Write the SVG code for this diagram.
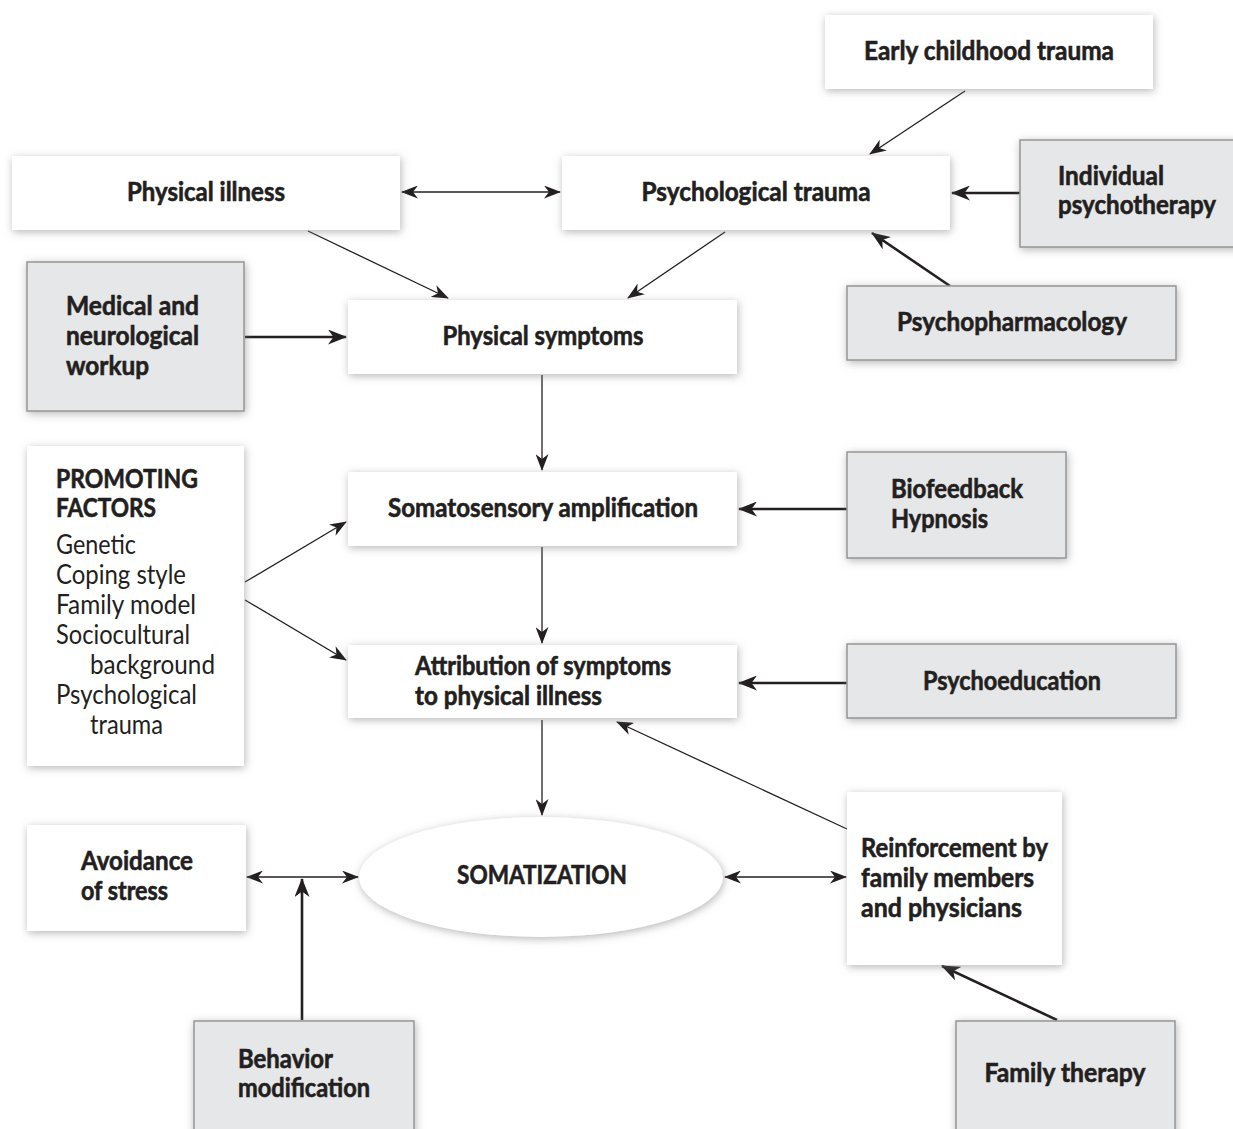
<svg xmlns="http://www.w3.org/2000/svg" width="1233" height="1129" viewBox="0 0 1233 1129">
  <defs>
    <filter id="glow" x="-20%" y="-30%" width="140%" height="160%">
      <feDropShadow dx="1" dy="2" stdDeviation="4" flood-color="#7a7a7a" flood-opacity="0.55"/>
    </filter>
    <marker id="head" viewBox="0 0 17 13" markerWidth="17" markerHeight="13" refX="16" refY="6.5" orient="auto-start-reverse" markerUnits="userSpaceOnUse">
      <path d="M0,0 L17,6.5 L0,13 L5,6.5 z" fill="#231f20"/>
    </marker>
    <marker id="headBig" viewBox="0 0 19 15" markerWidth="19" markerHeight="15" refX="18" refY="7.5" orient="auto-start-reverse" markerUnits="userSpaceOnUse">
      <path d="M0,0 L19,7.5 L0,15 L5.5,7.5 z" fill="#231f20"/>
    </marker>
  </defs>
  <style>
    .white { fill: #ffffff; filter: url(#glow); }
    .gray { fill: #e6e7e8; stroke: #969696; stroke-width: 1.5; filter: url(#glow); }
    .t { font-family: Lato, "Liberation Sans", sans-serif; font-weight: 700; font-size: 26px; fill: #231f20; stroke: #231f20; stroke-width: 0.6; }
    .r { font-family: Lato, "Liberation Sans", sans-serif; font-weight: 400; font-size: 26px; fill: #231f20; }
    .thin { stroke: #231f20; stroke-width: 1.3; fill: none; marker-end: url(#head); }
    .thick { stroke: #231f20; stroke-width: 2.6; fill: none; marker-end: url(#headBig); }
    .both { marker-start: url(#head); }
  </style>
  <rect width="1233" height="1129" fill="#ffffff"/>

  <!-- connectors -->
  <g id="connectors">
    <line class="thin" x1="965" y1="91" x2="870" y2="154"/>
    <line class="thin both" x1="402" y1="192" x2="560" y2="192"/>
    <line class="thick" x1="1020" y1="193" x2="952" y2="193"/>
    <line class="thick" x1="950" y1="286" x2="872" y2="233"/>
    <line class="thin" x1="308" y1="231" x2="448" y2="298"/>
    <line class="thin" x1="725" y1="232" x2="628" y2="298"/>
    <line class="thick" x1="245" y1="337" x2="346" y2="337"/>
    <line class="thin" x1="542" y1="375" x2="542" y2="470"/>
    <line class="thin" x1="245" y1="582" x2="346" y2="522"/>
    <line class="thin" x1="245" y1="600" x2="346" y2="660"/>
    <line class="thin" x1="542" y1="547" x2="542" y2="643"/>
    <line class="thick" x1="847" y1="509" x2="739" y2="509"/>
    <line class="thick" x1="847" y1="683" x2="739" y2="683"/>
    <line class="thin" x1="542" y1="720" x2="542" y2="815"/>
    <line class="thin" x1="847" y1="829" x2="617" y2="722"/>
    <line class="thin both" x1="725" y1="877" x2="846" y2="877"/>
    <line class="thin both" x1="247" y1="877" x2="358" y2="877"/>
    <line class="thick" x1="302" y1="1020" x2="302" y2="879"/>
    <line class="thick" x1="1057" y1="1020" x2="942" y2="966"/>
  </g>

  <g id="early-childhood-trauma">
    <rect class="white" x="825" y="15" width="328" height="74"/>
    <text class="t" x="989" y="60" text-anchor="middle" textLength="250" lengthAdjust="spacingAndGlyphs">Early childhood trauma</text>
  </g>

  <g id="physical-illness">
    <rect class="white" x="12" y="156" width="388" height="74"/>
    <text class="t" x="206" y="201" text-anchor="middle" textLength="158" lengthAdjust="spacingAndGlyphs">Physical illness</text>
  </g>

  <g id="psychological-trauma">
    <rect class="white" x="562" y="156" width="388" height="74"/>
    <text class="t" x="756" y="201" text-anchor="middle" textLength="229" lengthAdjust="spacingAndGlyphs">Psychological trauma</text>
  </g>

  <g id="individual-psychotherapy">
    <rect class="gray" x="1020" y="140" width="220" height="107"/>
    <text class="t" x="1058" y="185" textLength="106" lengthAdjust="spacingAndGlyphs">Individual</text>
    <text class="t" x="1058" y="214" textLength="158" lengthAdjust="spacingAndGlyphs">psychotherapy</text>
  </g>

  <g id="medical-workup">
    <rect class="gray" x="27" y="262" width="217" height="149"/>
    <text class="t" x="66" y="315" textLength="133" lengthAdjust="spacingAndGlyphs">Medical and</text>
    <text class="t" x="66" y="345" textLength="133" lengthAdjust="spacingAndGlyphs">neurological</text>
    <text class="t" x="66" y="375" textLength="83" lengthAdjust="spacingAndGlyphs">workup</text>
  </g>

  <g id="physical-symptoms">
    <rect class="white" x="348" y="300" width="389" height="74"/>
    <text class="t" x="543" y="345" text-anchor="middle" textLength="201" lengthAdjust="spacingAndGlyphs">Physical symptoms</text>
  </g>

  <g id="psychopharmacology">
    <rect class="gray" x="847" y="286" width="329" height="74"/>
    <text class="t" x="1012" y="331" text-anchor="middle" textLength="230" lengthAdjust="spacingAndGlyphs">Psychopharmacology</text>
  </g>

  <g id="promoting-factors">
    <rect class="white" x="27" y="446" width="217" height="320"/>
    <text class="t" x="56" y="488" textLength="142" lengthAdjust="spacingAndGlyphs">PROMOTING</text>
    <text class="t" x="56" y="517" textLength="100" lengthAdjust="spacingAndGlyphs">FACTORS</text>
    <text class="r" x="56" y="554" textLength="80" lengthAdjust="spacingAndGlyphs">Genetic</text>
    <text class="r" x="56" y="584" textLength="130" lengthAdjust="spacingAndGlyphs">Coping style</text>
    <text class="r" x="56" y="614" textLength="140" lengthAdjust="spacingAndGlyphs">Family model</text>
    <text class="r" x="56" y="644" textLength="134" lengthAdjust="spacingAndGlyphs">Sociocultural</text>
    <text class="r" x="90" y="674" textLength="125" lengthAdjust="spacingAndGlyphs">background</text>
    <text class="r" x="56" y="704" textLength="141" lengthAdjust="spacingAndGlyphs">Psychological</text>
    <text class="r" x="90" y="734" textLength="73" lengthAdjust="spacingAndGlyphs">trauma</text>
  </g>

  <g id="somatosensory-amplification">
    <rect class="white" x="348" y="472" width="389" height="74"/>
    <text class="t" x="543" y="517" text-anchor="middle" textLength="310" lengthAdjust="spacingAndGlyphs">Somatosensory amplification</text>
  </g>

  <g id="biofeedback-hypnosis">
    <rect class="gray" x="847" y="452" width="219" height="106"/>
    <text class="t" x="891" y="498" textLength="132" lengthAdjust="spacingAndGlyphs">Biofeedback</text>
    <text class="t" x="891" y="528" textLength="97" lengthAdjust="spacingAndGlyphs">Hypnosis</text>
  </g>

  <g id="attribution">
    <rect class="white" x="348" y="645" width="389" height="73"/>
    <text class="t" x="415" y="675" textLength="256" lengthAdjust="spacingAndGlyphs">Attribution of symptoms</text>
    <text class="t" x="415" y="705" textLength="187" lengthAdjust="spacingAndGlyphs">to physical illness</text>
  </g>

  <g id="psychoeducation">
    <rect class="gray" x="847" y="644" width="329" height="74"/>
    <text class="t" x="1012" y="690" text-anchor="middle" textLength="178" lengthAdjust="spacingAndGlyphs">Psychoeducation</text>
  </g>

  <g id="somatization">
    <ellipse class="white" cx="541" cy="877" rx="182" ry="60"/>
    <text class="t" x="542" y="884" text-anchor="middle" font-size="24" textLength="170" lengthAdjust="spacingAndGlyphs">SOMATIZATION</text>
  </g>

  <g id="avoidance-of-stress">
    <rect class="white" x="27" y="825" width="219" height="106"/>
    <text class="t" x="81" y="870" textLength="112" lengthAdjust="spacingAndGlyphs">Avoidance</text>
    <text class="t" x="81" y="900" textLength="87" lengthAdjust="spacingAndGlyphs">of stress</text>
  </g>

  <g id="reinforcement">
    <rect class="white" x="847" y="792" width="215" height="173"/>
    <text class="t" x="861" y="857" textLength="187" lengthAdjust="spacingAndGlyphs">Reinforcement by</text>
    <text class="t" x="861" y="887" textLength="173" lengthAdjust="spacingAndGlyphs">family members</text>
    <text class="t" x="861" y="917" textLength="161" lengthAdjust="spacingAndGlyphs">and physicians</text>
  </g>

  <g id="behavior-modification">
    <rect class="gray" x="194" y="1021" width="220" height="115"/>
    <text class="t" x="238" y="1068" textLength="95" lengthAdjust="spacingAndGlyphs">Behavior</text>
    <text class="t" x="238" y="1097" textLength="132" lengthAdjust="spacingAndGlyphs">modification</text>
  </g>

  <g id="family-therapy">
    <rect class="gray" x="956" y="1021" width="219" height="115"/>
    <text class="t" x="1065" y="1082" text-anchor="middle" textLength="161" lengthAdjust="spacingAndGlyphs">Family therapy</text>
  </g>
</svg>
